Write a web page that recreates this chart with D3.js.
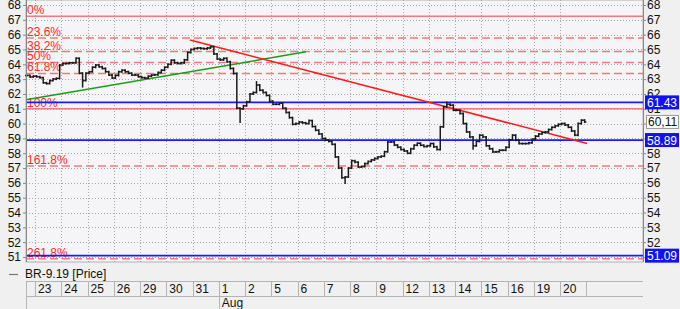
<!DOCTYPE html>
<html lang="en">
<head>
<meta charset="UTF-8">
<script src="https://d3js.org/d3.v7.min.js"></script>
<title>BR-9.19 Price</title>
<style>
  body { margin: 0; padding: 0; background: #f0f0f0; }
  svg { display: block; font-family: "Liberation Sans", Arial, sans-serif; }
  .grid line { stroke: #a8a8a8; stroke-dasharray: 1,2; }
  .axis text { font-size: 12px; fill: #111; }
  .axis path, .axis line { stroke: #888; }
</style>
</head>
<body>
<svg id="chart" width="680" height="309"></svg>
<script>
// trading days shown on the date axis
const dayLabels = ["23","24","25","26","29","30","31","1","2","5","6","7","8","9","12","13","14","15","16","19","20"];
const monthLabels = [{ day: "1", text: "Aug" }];

// hourly closes, last bars of the day before 23 Jul, then 8 bars per day
const preBars = [63.25, 63.15, 63.2];
const closes = [
  [63.16, 63.1, 62.75, 62.7, 62.9, 63.0, 63.05, 63.95],
  [64.05, 64.06, 64.1, 64.1, 64.4, 63.4, 62.9, 63.4],
  [63.5, 63.8, 63.95, 63.83, 63.72, 63.5, 63.27, 63.07],
  [63.25, 63.5, 63.6, 63.5, 63.4, 63.27, 63.27, 63.16],
  [63.1, 63.07, 63.2, 63.27, 63.3, 63.45, 63.6, 63.8],
  [64.0, 64.28, 64.1, 64.06, 64.1, 64.3, 64.8, 65.0],
  [65.07, 65.1, 65.07, 65.05, 65.1, 65.18, 64.7, 64.35],
  [64.3, 64.4, 64.17, 63.72, 63.38, 61.04, 61.0, 61.2],
  [61.47, 62.0, 62.1, 62.6, 62.25, 62.1, 61.9, 61.5],
  [61.3, 61.3, 61.38, 61.04, 60.75, 60.4, 59.95, 60.0],
  [60.1, 60.05, 60.0, 60.2, 59.8, 59.55, 59.3, 59.0],
  [58.88, 58.8, 58.6, 57.75, 57.0, 56.35, 56.4, 57.0],
  [57.5, 57.4, 57.07, 57.1, 57.3, 57.45, 57.55, 57.65],
  [57.75, 57.8, 58.1, 58.76, 58.76, 58.55, 58.4, 58.25],
  [58.15, 58.0, 58.3, 58.54, 58.67, 58.54, 58.45, 58.5],
  [58.65, 58.43, 58.25, 59.78, 61.13, 61.3, 61.24, 60.9],
  [60.9, 60.68, 60.0, 59.44, 59.1, 58.5, 58.8, 59.22],
  [59.1, 58.5, 58.3, 58.09, 58.1, 58.2, 58.2, 58.4],
  [58.9, 59.22, 58.88, 58.65, 58.65, 58.65, 58.7, 58.95],
  [59.15, 59.3, 59.4, 59.44, 59.6, 59.75, 59.85, 59.95],
  [60.0, 59.9, 59.75, 59.5, 59.22, 60.0, 60.23, 60.11]
];
// bars whose extreme reaches beyond open/close
const wicks = [
  { day: "24", bar: 6, value: 62.5 },
  { day: "1", bar: 6, value: 60.1 },
  { day: "2", bar: 3, value: 62.8 },
  { day: "7", bar: 6, value: 56.0 },
  { day: "13", bar: 5, value: 61.43 },
  { day: "14", bar: 5, value: 58.3 }
];

// fibonacci retracement
const fibHigh = 67.25, fibLow = 61.0;
const fibRatios = [0, 0.236, 0.382, 0.5, 0.618, 1, 1.618, 2.618];
const fibNames = ["0%", "23.6%", "38.2%", "50%", "61.8%", "100%", "161.8%", "261.8%"];

// horizontal levels and trend lines (x in trading days from 23 Jul)
const blueLevels = [61.43, 58.89, 51.09];
const lastPrice = 60.11;
const greenTrend = [[-0.343, 61.61], [10.32, 64.84]];
const redTrend = [[5.905, 65.64], [21.03, 58.66]];

const yTicks = d3.range(51, 69);

const svg = d3.select("#chart");
const pLeft = 26, pRight = 643, pTop = 0, pBottom = 262;

const x = d3.scaleLinear().domain([-0.343, 23.16]).range([pLeft, pRight]);
const y = d3.scaleLinear().domain([50.662, 68.338]).range([pBottom, pTop]);
const perDay = 8;

svg.append("rect").attr("x", pLeft).attr("y", pTop)
  .attr("width", pRight - pLeft).attr("height", pBottom - pTop)
  .attr("fill", "#f5f5f7").attr("stroke", "#b0b0b0");

// grid
const grid = svg.append("g").attr("class", "grid");
grid.selectAll(".h").data(yTicks).join("line")
  .attr("x1", pLeft).attr("x2", pRight)
  .attr("y1", d => Math.round(y(d)) + 0.5).attr("y2", d => Math.round(y(d)) + 0.5);
grid.selectAll(".v").data(dayLabels).join("line")
  .attr("x1", (d, i) => Math.round(x(i)) + 0.5).attr("x2", (d, i) => Math.round(x(i)) + 0.5)
  .attr("y1", pTop).attr("y2", pBottom);

// fib levels
const fibVal = r => fibHigh - r * (fibHigh - fibLow);
const fib = svg.append("g");
fib.selectAll("line").data(fibRatios).join("line")
  .attr("x1", pLeft).attr("x2", pRight)
  .attr("y1", d => y(fibVal(d))).attr("y2", d => y(fibVal(d)))
  .attr("stroke", "#f27a7a").attr("stroke-width", 1.5)
  .attr("stroke-dasharray", d => (d === 0 || d === 1) ? null : "8,4");
fib.selectAll("text").data(fibRatios).join("text")
  .attr("x", pLeft + 1).attr("y", d => y(fibVal(d)) - 2)
  .attr("fill", "#ff2a2a").attr("font-size", 12)
  .text((d, i) => fibNames[i]);

// blue levels
svg.append("g").selectAll("line").data(blueLevels).join("line")
  .attr("x1", pLeft).attr("x2", pRight)
  .attr("y1", d => y(d)).attr("y2", d => y(d))
  .attr("stroke", "#1a1aff").attr("stroke-width", 1.8);

// trend lines
const line = d3.line().x(d => x(d[0])).y(d => y(d[1]));
svg.append("path").attr("d", line(greenTrend)).attr("stroke", "#1e9a1e").attr("stroke-width", 1.5).attr("fill", "none");
svg.append("path").attr("d", line(redTrend)).attr("stroke", "#ff1a1a").attr("stroke-width", 1.5).attr("fill", "none");

// price bars
const bars = [];
preBars.forEach((c, j) => bars.push({ pos: -(preBars.length - j - 0.5) / perDay, close: c }));
closes.forEach((day, i) => day.forEach((c, j) => {
  const w = wicks.find(k => k.day === dayLabels[i] && k.bar === j);
  bars.push({ pos: i + (j + 0.5) / perDay, close: c, wick: w ? w.value : null });
}));
bars.forEach((b, i) => { b.open = i ? bars[i - 1].close : b.close; });

const pb = svg.append("g").attr("stroke", "#1a1a1a").attr("stroke-width", 1.5);
pb.selectAll(".bar").data(bars).join("line")
  .attr("x1", d => x(d.pos)).attr("x2", d => x(d.pos))
  .attr("y1", d => y(Math.max(d.open, d.close, d.wick || 0)) - 1)
  .attr("y2", d => y(Math.min(d.open, d.close, d.wick || 99)) + 1);
pb.selectAll(".o").data(bars).join("line")
  .attr("x1", d => x(d.pos) - 1.7).attr("x2", d => x(d.pos))
  .attr("y1", d => y(d.open)).attr("y2", d => y(d.open));
pb.selectAll(".c").data(bars).join("line")
  .attr("x1", d => x(d.pos)).attr("x2", d => x(d.pos) + 1.7)
  .attr("y1", d => y(d.close)).attr("y2", d => y(d.close));

// axes; right-hand labels hidden under a value tag are left out
const tagged = [...blueLevels, lastPrice];
const covered = t => tagged.some(v => Math.abs(y(v) - y(t)) < 6);
svg.append("g").attr("class", "axis").attr("transform", `translate(${pLeft},0)`)
  .call(d3.axisLeft(y).tickValues(yTicks).tickSize(3).tickPadding(2).tickFormat(d3.format("d")))
  .call(g => g.select(".domain").remove());
svg.append("g").attr("class", "axis").attr("transform", `translate(${pRight},0)`)
  .call(d3.axisRight(y).tickValues(yTicks).tickSize(3).tickPadding(1).tickFormat(d3.format("d")))
  .call(g => g.select(".domain").remove())
  .call(g => g.selectAll(".tick text").filter(d => covered(d)).remove());
svg.append("line").attr("x1", pLeft + 0.5).attr("x2", pLeft + 0.5).attr("y1", pTop).attr("y2", pBottom).attr("stroke", "#888");
svg.append("line").attr("x1", pRight + 0.5).attr("x2", pRight + 0.5).attr("y1", pTop).attr("y2", pBottom).attr("stroke", "#888");

// right-side value tags
const tags = svg.append("g").attr("font-size", 12);
blueLevels.forEach(v => {
  tags.append("rect").attr("x", pRight + 2).attr("y", y(v) - 7).attr("width", 34).attr("height", 14).attr("fill", "#1010ff");
  tags.append("text").attr("x", pRight + 4).attr("y", y(v) + 4.5).attr("fill", "#fff").text(d3.format(".2f")(v));
});
tags.append("rect").attr("x", pRight + 3.5).attr("y", y(lastPrice) - 6.5).attr("width", 32).attr("height", 13)
  .attr("fill", "#fff").attr("stroke", "#999");
tags.append("text").attr("x", pRight + 5).attr("y", y(lastPrice) + 4.5).attr("fill", "#111")
  .text(d3.format(".2f")(lastPrice).replace(".", ","));

// legend
svg.append("line").attr("x1", 9).attr("x2", 18).attr("y1", 274.5).attr("y2", 274.5).attr("stroke", "#777").attr("stroke-width", 1.2);
svg.append("text").attr("x", 25).attr("y", 278).attr("font-size", 12).attr("fill", "#111").text("BR-9.19 [Price]");

// date axis
const da = svg.append("g").attr("stroke", "#b4b4b4");
da.append("line").attr("x1", pLeft).attr("x2", pRight).attr("y1", 281.5).attr("y2", 281.5);
da.append("line").attr("x1", pLeft).attr("x2", pRight).attr("y1", 296.5).attr("y2", 296.5);
da.append("line").attr("x1", pLeft + 0.5).attr("x2", pLeft + 0.5).attr("y1", 281).attr("y2", 309);
da.selectAll(".sep").data(dayLabels).join("line")
  .attr("x1", (d, i) => Math.round(x(i)) + 0.5).attr("x2", (d, i) => Math.round(x(i)) + 0.5)
  .attr("y1", 281).attr("y2", 296);
da.append("line").attr("x1", Math.round(x(dayLabels.length)) + 0.5).attr("x2", Math.round(x(dayLabels.length)) + 0.5)
  .attr("y1", 281).attr("y2", 296);
svg.append("g").selectAll("text").data(dayLabels).join("text")
  .attr("x", (d, i) => x(i) + 3).attr("y", 293).attr("font-size", 12).attr("fill", "#111")
  .text(d => d);
monthLabels.forEach(m => {
  const i = dayLabels.indexOf(m.day);
  da.append("line").attr("x1", Math.round(x(i)) + 0.5).attr("x2", Math.round(x(i)) + 0.5).attr("y1", 296).attr("y2", 309);
  svg.append("text").attr("x", x(i) + 3).attr("y", 307).attr("font-size", 12).attr("fill", "#111").text(m.text);
});
</script>
</body>
</html>
